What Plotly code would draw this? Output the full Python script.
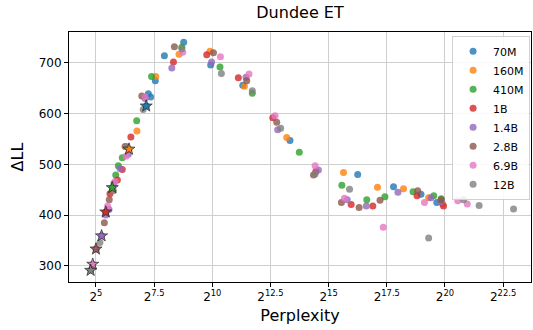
import numpy as np
import plotly.graph_objects as go

models = ["70M", "160M", "410M", "1B", "1.4B", "2.8B", "6.9B", "12B"]
colors = ["#1f77b4", "#ff7f0e", "#2ca02c", "#d62728", "#9467bd", "#8c564b", "#e377c2", "#7f7f7f"]

# log2(perplexity) and delta log-likelihood per model (first entry = final checkpoint, drawn as a star)
log2ppl_70M = [7.16, 7.25, 7.35, 7.55, 7.94, 8.77, 9.93, 11.31, 13.34, 16.25, 17.79, 18.97, 19.65]
dll_70M = [615, 639, 633, 665, 714, 741, 696, 656, 547, 480, 456, 441, 425]

log2ppl_160M = [6.42, 6.76, 7.57, 8.57, 9.90, 11.38, 13.20, 15.64, 17.10, 18.22, 19.30, 19.90]
dll_160M = [530, 566, 673, 717, 723, 654, 553, 484, 455, 452, 434, 422]

log2ppl_410M = [5.70, 5.85, 5.96, 6.13, 6.75, 7.39, 8.69, 10.33, 11.72, 13.74, 15.57, 16.64, 17.42, 18.63, 19.52, 19.84]
dll_410M = [454, 479, 497, 513, 586, 673, 731, 692, 640, 524, 459, 430, 436, 446, 438, 432]

log2ppl_1B = [5.42, 5.60, 5.92, 6.13, 6.50, 8.33, 9.76, 11.12, 12.60, 14.45, 15.97, 16.90, 18.80, 19.94]
dll_1B = [406, 442, 469, 490, 554, 702, 716, 671, 592, 486, 421, 418, 438, 418]

log2ppl_1_4B = [5.24, 5.42, 5.56, 5.77, 6.03, 6.39, 7.11, 8.26, 9.97, 11.45, 12.81, 14.56, 15.80, 16.62, 17.98, 19.40, 19.83]
dll_1_4B = [359, 400, 411, 462, 492, 520, 630, 690, 702, 672, 568, 489, 430, 418, 445, 434, 426]

log2ppl_2_8B = [5.00, 5.36, 5.57, 6.25, 6.97, 8.37, 10.05, 11.48, 12.77, 14.35, 15.55, 16.31, 17.21, 18.83, 19.84]
dll_2_8B = [333, 385, 430, 535, 635, 732, 720, 665, 583, 479, 425, 415, 429, 448, 430]

log2ppl_6_9B = [4.86, 5.02, 5.50, 5.82, 6.29, 7.11, 8.73, 10.35, 11.58, 12.70, 14.42, 15.68, 17.35, 19.12, 20.55, 20.96]
dll_6_9B = [303, 333, 418, 466, 516, 633, 721, 712, 678, 596, 497, 433, 376, 425, 428, 422]

log2ppl_12B = [4.77, 5.17, 5.75, 6.30, 7.03, 8.69, 10.39, 11.72, 12.94, 14.42, 15.90, 19.30, 20.80, 21.47, 22.95]
dll_12B = [291, 346, 448, 535, 608, 728, 679, 645, 571, 481, 451, 355, 430, 419, 412]

xtick_exponents = [5, 7.5, 10, 12.5, 15, 17.5, 20, 22.5]
xtick_labels = ["2<sup>5</sup>", "2<sup>7.5</sup>", "2<sup>10</sup>", "2<sup>12.5</sup>",
                "2<sup>15</sup>", "2<sup>17.5</sup>", "2<sup>20</sup>", "2<sup>22.5</sup>"]
ytick_values = [300, 400, 500, 600, 700]

series_x = [log2ppl_70M, log2ppl_160M, log2ppl_410M, log2ppl_1B, log2ppl_1_4B, log2ppl_2_8B, log2ppl_6_9B, log2ppl_12B]
series_y = [dll_70M, dll_160M, dll_410M, dll_1B, dll_1_4B, dll_2_8B, dll_6_9B, dll_12B]

fig = go.Figure()
for name, col, lx, y in zip(models, colors, series_x, series_y):
    ppl = np.power(2.0, np.array(lx))
    fig.add_trace(go.Scatter(
        x=ppl, y=y, mode="markers", name=name,
        marker=dict(color=col, size=7, opacity=0.8, line=dict(width=0)),
    ))
for name, col, lx, y in zip(models, colors, series_x, series_y):
    fig.add_trace(go.Scatter(
        x=[2.0 ** lx[0]], y=[y[0]], mode="markers", showlegend=False,
        marker=dict(color=col, size=9, symbol="star", opacity=0.85,
                    line=dict(color="#222222", width=0.9)),
    ))

axis_common = dict(showline=True, linecolor="black", linewidth=1, mirror=True,
                   ticks="outside", ticklen=4, tickcolor="black",
                   showgrid=True, gridcolor="#cfcfcf", gridwidth=1, zeroline=False,
                   tickfont=dict(family="DejaVu Sans", size=12, color="black"))

fig.update_layout(
    width=533, height=330,
    margin=dict(l=69, r=2, t=32, b=48),
    paper_bgcolor="white", plot_bgcolor="white",
    title=dict(text="Dundee ET", x=0.5, xref="paper", y=1 - 12 / 330, yref="container",
               yanchor="middle", font=dict(family="DejaVu Sans", size=16, color="black")),
    xaxis=dict(type="log", range=[3.84 * np.log10(2), 23.7 * np.log10(2)],
               tickvals=[2.0 ** e for e in xtick_exponents], ticktext=xtick_labels,
               title=dict(text="Perplexity", font=dict(family="DejaVu Sans", size=16, color="black"), standoff=6),
               **axis_common),
    yaxis=dict(range=[268, 761], tickvals=ytick_values,
               title=dict(text="ΔLL", font=dict(family="DejaVu Sans", size=16, color="black"), standoff=11),
               **axis_common),
    legend=dict(x=0.998, xanchor="right", y=0.985, yanchor="top",
                bgcolor="rgba(255,255,255,0.85)", bordercolor="#d0d0d0", borderwidth=1,
                font=dict(family="DejaVu Sans", size=11, color="black")),
)

fig.write_html("out.html")
